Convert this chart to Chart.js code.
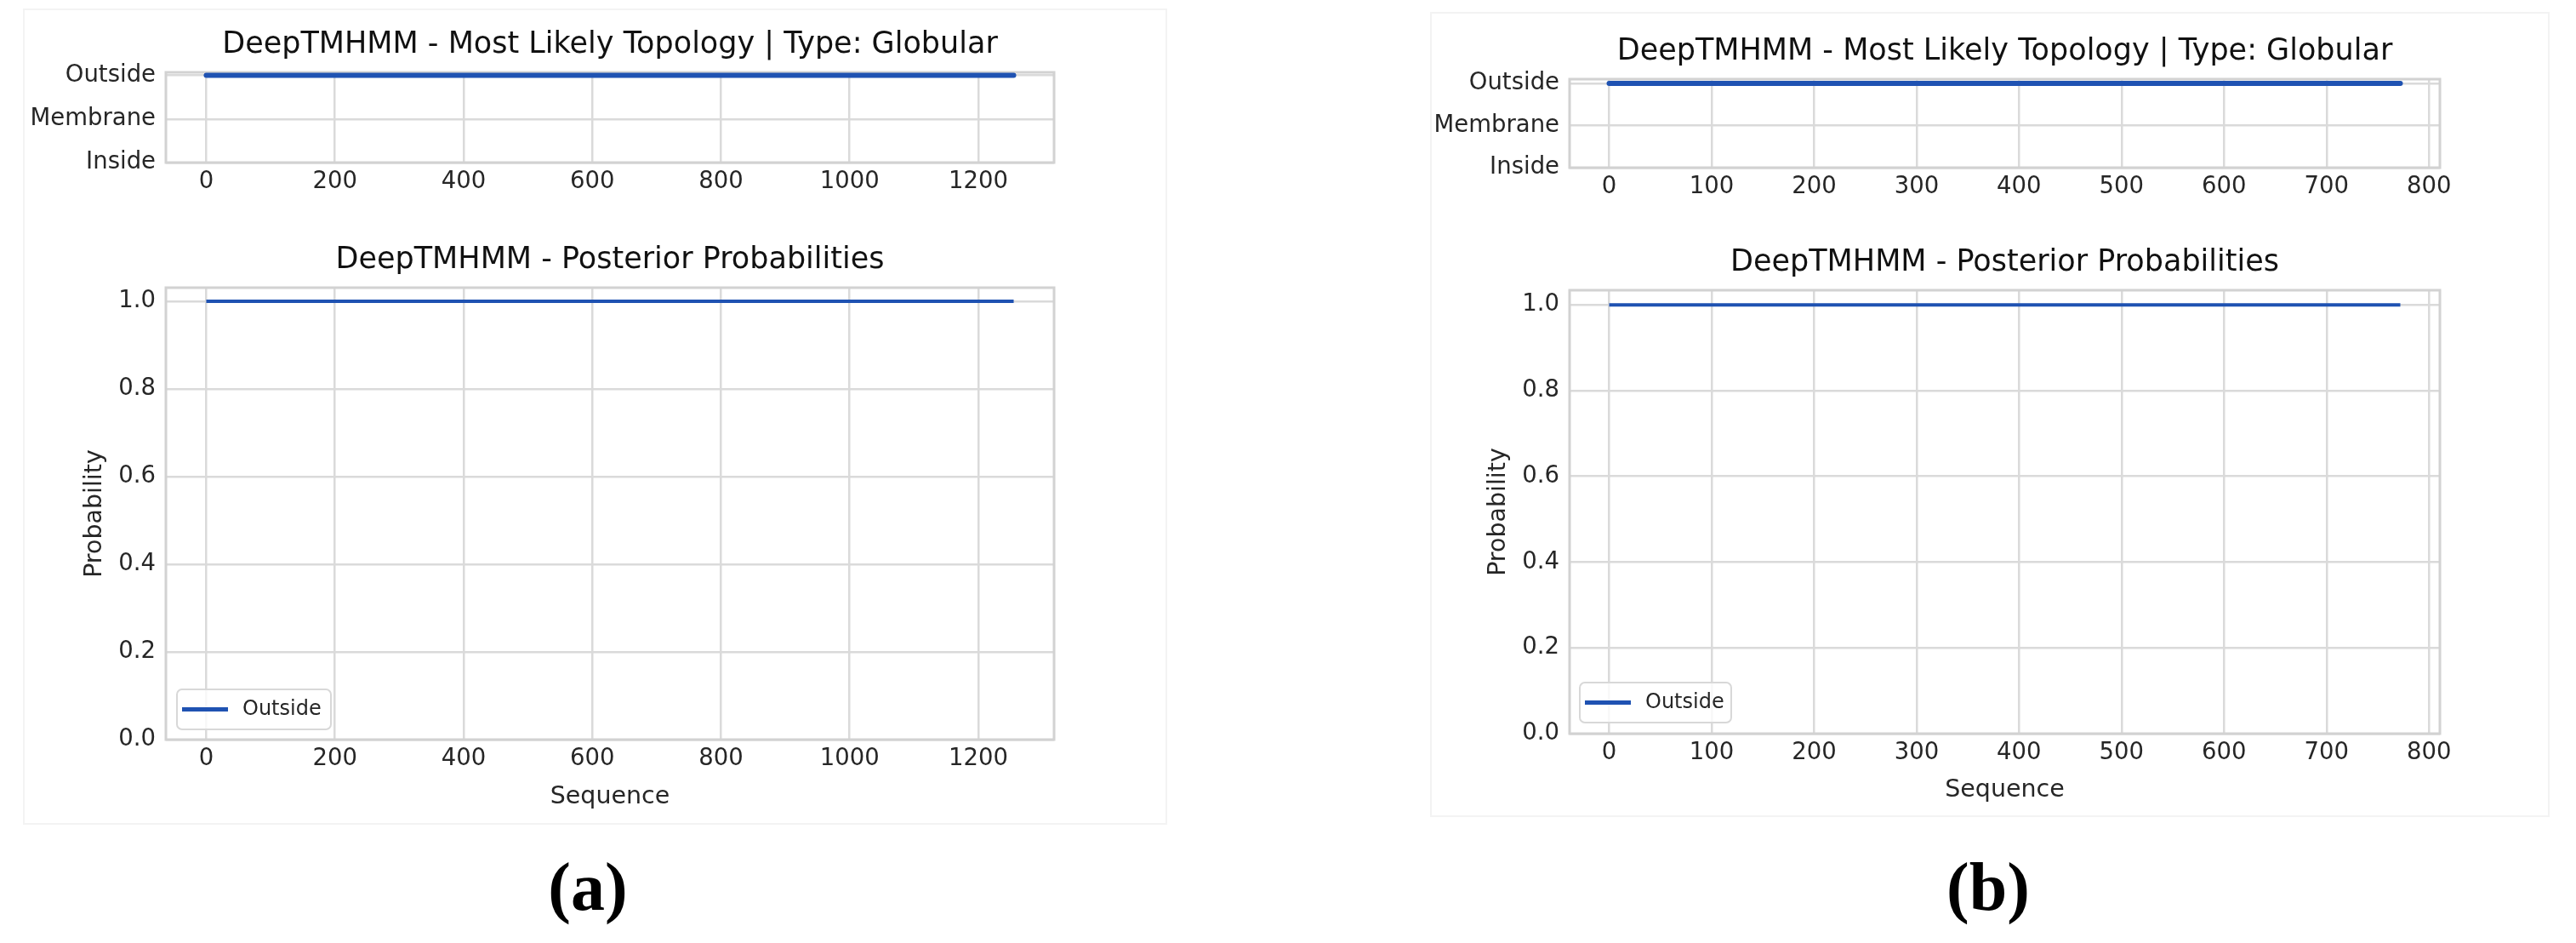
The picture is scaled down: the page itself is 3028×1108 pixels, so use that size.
<!DOCTYPE html>
<html>
<head>
<meta charset="utf-8">
<title>DeepTMHMM</title>
<script src="https://cdn.jsdelivr.net/npm/chart.js@4.4.1/dist/chart.umd.min.js"></script>
<style>
  html, body { margin: 0; padding: 0; background: #fff; }
  body { width: 3028px; height: 1108px; position: relative; overflow: hidden; }
  canvas { position: absolute; }
  .panel { position: absolute; border: 2px solid #f3f3f3; box-sizing: border-box; }
  .tag { position: absolute; font: bold 80px 'Liberation Serif', 'Times New Roman', serif; color: #000;
         transform: translate(-50%, -50%); white-space: nowrap; }
</style>
</head>
<body>
<div class="panel" style="left:27px;top:10px;width:1345px;height:959px"></div>
<div class="panel" style="left:1681px;top:14px;width:1316px;height:946px"></div>

<canvas id="topoA"></canvas>
<canvas id="probA"></canvas>
<canvas id="topoB"></canvas>
<canvas id="probB"></canvas>

<div class="tag" style="left:691px;top:1042px">(a)</div>
<div class="tag" style="left:2337px;top:1042px">(b)</div>

<script>
/* === DeepTMHMM: topology + posterior probability, two proteins === */

// Datos
const topologyLevels = ['Inside', 'Membrane', 'Outside'];
const xTicksA = [0, 200, 400, 600, 800, 1000, 1200];
const xTicksB = [0, 100, 200, 300, 400, 500, 600, 700, 800];
const probTicks = [0.0, 0.2, 0.4, 0.6, 0.8, 1.0];

// (a) first / last residue of the sequence
const residuesA = [0, 1255];
const topologyA = ['Outside', 'Outside'];
const outsideProbA = [1.0, 1.0];

// (b)
const residuesB = [0, 772];
const topologyB = ['Outside', 'Outside'];
const outsideProbB = [1.0, 1.0];

const topoTitle = 'DeepTMHMM - Most Likely Topology | Type: Globular';
const probTitle = 'DeepTMHMM - Posterior Probabilities';

Chart.defaults.font.family = "'DejaVu Sans', 'Noto Sans', sans-serif";
Chart.defaults.color = '#262626';

const LINE_COLOR = '#1f52b2';
const GRID_COLOR = '#dadada';
const TITLE_SIZE = 35;
const LABEL_SIZE = 28.5;
const TICK_SIZE = 27.5;

// marco del area de trazado
const plotFrame = {
    id: 'plotFrame',
    beforeDatasetsDraw(chart) {
        const { ctx, chartArea: a } = chart;
        ctx.save();
        ctx.strokeStyle = '#d2d2d2';
        ctx.lineWidth = 3;
        ctx.strokeRect(a.left, a.top, a.right - a.left, a.bottom - a.top);
        ctx.restore();
    }
};

// leyenda dentro del grafico, abajo a la izquierda
const innerLegend = {
    id: 'innerLegend',
    afterDatasetsDraw(chart, args, opts) {
        const ds = chart.data.datasets[0];
        const { ctx, chartArea: a } = chart;
        const x = a.left + opts.dx;
        const y = a.bottom - opts.dy - opts.h;
        const my = y + opts.h / 2;
        ctx.save();
        ctx.beginPath();
        ctx.roundRect(x, y, opts.w, opts.h, 6);
        ctx.fillStyle = 'rgba(255,255,255,0.8)';
        ctx.fill();
        ctx.strokeStyle = '#d8d8d8';
        ctx.lineWidth = 2;
        ctx.stroke();
        ctx.beginPath();
        ctx.moveTo(x + 6, my);
        ctx.lineTo(x + 60, my);
        ctx.strokeStyle = ds.borderColor;
        ctx.lineWidth = ds.borderWidth + 1;
        ctx.stroke();
        ctx.font = "24px 'DejaVu Sans'";
        ctx.fillStyle = '#262626';
        ctx.textBaseline = 'middle';
        ctx.fillText(ds.label, x + 77, my);
        ctx.restore();
    }
};

function makeChart(id, box, area, cfg) {
    const canvas = document.getElementById(id);
    canvas.width = box.w;
    canvas.height = box.h;
    canvas.style.left = box.x + 'px';
    canvas.style.top = box.y + 'px';

    const titleLh = TITLE_SIZE * 1.2;
    const labelLh = LABEL_SIZE * 1.2;
    const titleTop = cfg.titleMid - box.y - titleLh / 2;
    const titleBottom = area.t - box.y - titleLh - titleTop;

    return new Chart(canvas.getContext('2d'), {
        type: 'line',
        data: {
            datasets: [{
                label: cfg.label,
                data: cfg.xs.map((x, i) => ({ x: x, y: cfg.ys[i] })),
                borderColor: LINE_COLOR,
                borderWidth: cfg.lineWidth,
                borderCapStyle: cfg.cap,
                pointRadius: 0,
                fill: false,
                tension: 0
            }]
        },
        options: {
            responsive: false,
            animation: false,
            events: [],
            layout: {
                padding: { left: 0, top: 0, right: box.x + box.w - area.r, bottom: box.y + box.h - area.b - cfg.xH }
            },
            plugins: {
                legend: { display: false },
                tooltip: { enabled: false },
                title: {
                    display: true,
                    text: cfg.title,
                    fullSize: false,
                    color: '#111',
                    font: { size: TITLE_SIZE, weight: 'normal' },
                    padding: { top: titleTop, bottom: titleBottom }
                },
                innerLegend: cfg.legend || {}
            },
            scales: {
                x: {
                    type: 'linear',
                    min: cfg.xMin,
                    max: cfg.xMax,
                    afterBuildTicks: s => { s.ticks = cfg.xTicks.map(v => ({ value: v })); },
                    afterFit: s => { s.height = cfg.xH; },
                    grid: { color: GRID_COLOR, lineWidth: 2.5, drawTicks: false },
                    border: { display: false },
                    ticks: { autoSkip: false, maxRotation: 0, padding: 6, font: { size: TICK_SIZE }, callback: v => String(v) },
                    title: {
                        display: !!cfg.xTitle,
                        text: cfg.xTitle,
                        font: { size: LABEL_SIZE },
                        padding: { top: 0, bottom: cfg.xTitle ? area.b + cfg.xH - cfg.xTitleY - labelLh / 2 : 0 }
                    }
                },
                y: {
                    type: 'linear',
                    min: cfg.yMin,
                    max: cfg.yMax,
                    afterBuildTicks: s => { s.ticks = cfg.yTicks.map(v => ({ value: v })); },
                    afterFit: s => { s.width = area.l - box.x; },
                    grid: { color: GRID_COLOR, lineWidth: 2.5, drawTicks: false },
                    border: { display: false },
                    ticks: { autoSkip: false, padding: 12, font: { size: TICK_SIZE }, callback: cfg.yFormat },
                    title: {
                        display: !!cfg.yTitle,
                        text: cfg.yTitle,
                        font: { size: LABEL_SIZE },
                        padding: { top: cfg.yTitle ? cfg.yTitleX - box.x - labelLh / 2 : 0, bottom: 0 }
                    }
                }
            }
        },
        plugins: cfg.legend ? [plotFrame, innerLegend] : [plotFrame]
    });
}

const topoFormat = v => topologyLevels[v];
const probFormat = v => v.toFixed(1);

// 1. Panel (a)
makeChart('topoA', { x: 0, y: 0, w: 1400, h: 250 }, { l: 195, t: 85, r: 1239, b: 191 }, {
    title: topoTitle, titleMid: 53, label: 'Outside',
    xs: residuesA, ys: topologyA.map(t => topologyLevels.indexOf(t)),
    lineWidth: 6, cap: 'round',
    xMin: -62.75, xMax: 1317.75, xTicks: xTicksA, xH: 60,
    yMin: 0, yMax: 2.07, yTicks: [0, 1, 2], yFormat: topoFormat
});
makeChart('probA', { x: 0, y: 250, w: 1400, h: 730 }, { l: 195, t: 338, r: 1239, b: 869 }, {
    title: probTitle, titleMid: 306, label: 'Outside',
    xs: residuesA, ys: outsideProbA,
    lineWidth: 4, cap: 'butt',
    xMin: -62.75, xMax: 1317.75, xTicks: xTicksA, xH: 95, xTitle: 'Sequence', xTitleY: 937,
    yMin: 0, yMax: 1.031, yTicks: probTicks, yFormat: probFormat,
    yTitle: 'Probability', yTitleX: 112,
    legend: { dx: 13, dy: 12, w: 181, h: 47 }
});

// 2. Panel (b)
makeChart('topoB', { x: 1650, y: 0, w: 1378, h: 250 }, { l: 1845, t: 93, r: 2868, b: 197 }, {
    title: topoTitle, titleMid: 61, label: 'Outside',
    xs: residuesB, ys: topologyB.map(t => topologyLevels.indexOf(t)),
    lineWidth: 6, cap: 'round',
    xMin: -38.6, xMax: 810.6, xTicks: xTicksB, xH: 60,
    yMin: 0, yMax: 2.1, yTicks: [0, 1, 2], yFormat: topoFormat
});
makeChart('probB', { x: 1650, y: 250, w: 1378, h: 730 }, { l: 1845, t: 341, r: 2868, b: 862 }, {
    title: probTitle, titleMid: 309, label: 'Outside',
    xs: residuesB, ys: outsideProbB,
    lineWidth: 4, cap: 'butt',
    xMin: -38.6, xMax: 810.6, xTicks: xTicksB, xH: 95, xTitle: 'Sequence', xTitleY: 929,
    yMin: 0, yMax: 1.034, yTicks: probTicks, yFormat: probFormat,
    yTitle: 'Probability', yTitleX: 1762,
    legend: { dx: 12, dy: 13, w: 178, h: 47 }
});
</script>
</body>
</html>
